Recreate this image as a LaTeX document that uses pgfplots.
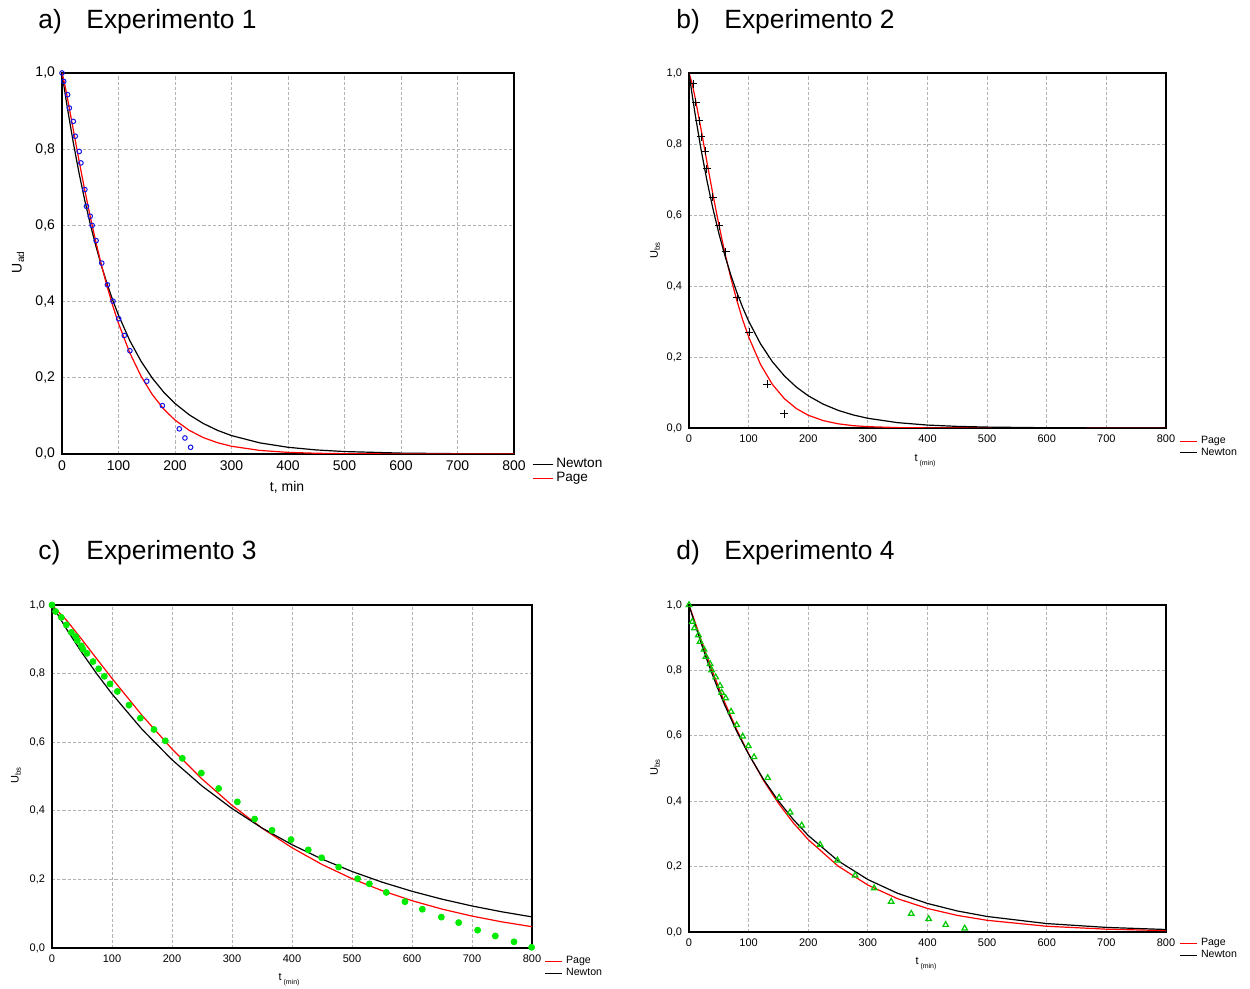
\documentclass[border=0pt]{standalone}
\usepackage{pgfplots}
\pgfplotsset{compat=1.18}
\usepackage{fontspec}
\setmainfont{Liberation Sans}
\definecolor{mygreen}{RGB}{0,235,0}
\definecolor{myred}{RGB}{255,0,0}
\definecolor{myblue}{RGB}{20,20,230}
\pgfplotsset{
  panel/.style={
    scale only axis, anchor=south west,
    xmin=0, xmax=800, ymin=0, ymax=1,
    xtick={0,100,200,300,400,500,600,700,800},
    xticklabels={0,100,200,300,400,500,600,700,800},
    ytick={0,0.2,0.4,0.6,0.8,1},
    yticklabels={{0,0},{0,2},{0,4},{0,6},{0,8},{1,0}},
    grid=major,
    grid style={dash pattern=on 1.6pt off 1pt, black!30, line width=0.4pt},
    major tick length=0pt,
    axis line style={line width=0.7pt},
    legend cell align=left,
    legend style={draw=none, fill=none, inner sep=0pt, outer sep=0pt, row sep=0pt,
      nodes={inner sep=0.4pt, anchor=west},
      /tikz/every odd column/.append style={column sep=1.2pt}},
  },
  small/.style={
    tick label style={font=\fontsize{5.5}{6}\selectfont},
    label style={font=\fontsize{5.5}{6}\selectfont},
    legend style={font=\fontsize{5.3}{6}\selectfont},
    legend image code/.code={\draw[##1, line width=0.5pt] (0pt,0pt) -- (8.5pt,0pt);},
  },
  big/.style={
    tick label style={font=\fontsize{7}{8}\selectfont},
    label style={font=\fontsize{7}{8}\selectfont},
    legend style={font=\fontsize{6.8}{7.5}\selectfont},
    legend image code/.code={\draw[##1, line width=0.5pt] (0pt,0pt) -- (10pt,0pt);},
  },
  curve/.style={line width=0.6pt, no marks},
}
\newcommand{\tmin}{t\,\raisebox{-0.6ex}{\fontsize{3.5}{4}\selectfont (min)}}
\begin{document}
\begin{tikzpicture}
\useasboundingbox (0pt,0pt) rectangle (625pt,494.5pt);
% titles
\node[anchor=base west, inner sep=0pt, font=\fontsize{13.2}{15}\selectfont] at (19pt,480pt) {a)};
\node[anchor=base west, inner sep=0pt, font=\fontsize{13.2}{15}\selectfont] at (43pt,480pt) {Experimento 1};
\node[anchor=base west, inner sep=0pt, font=\fontsize{13.2}{15}\selectfont] at (338pt,480pt) {b)};
\node[anchor=base west, inner sep=0pt, font=\fontsize{13.2}{15}\selectfont] at (362pt,480pt) {Experimento 2};
\node[anchor=base west, inner sep=0pt, font=\fontsize{13.2}{15}\selectfont] at (19pt,214.5pt) {c)};
\node[anchor=base west, inner sep=0pt, font=\fontsize{13.2}{15}\selectfont] at (43pt,214.5pt) {Experimento 3};
\node[anchor=base west, inner sep=0pt, font=\fontsize{13.2}{15}\selectfont] at (338pt,214.5pt) {d)};
\node[anchor=base west, inner sep=0pt, font=\fontsize{13.2}{15}\selectfont] at (362pt,214.5pt) {Experimento 4};

% ---------------- a ----------------
\begin{axis}[panel, big, at={(31pt,267.5pt)}, width=226pt, height=190.5pt,
  xlabel={t, min}, ylabel={U\textsubscript{ad}},
  xlabel style={at={(rel axis cs:0.498,-0.087)}, anchor=center},
  ylabel style={at={(rel axis cs:-0.097,0.504)}, anchor=center},
  legend style={at={(1.04,-0.01)}, anchor=north west}]
\addplot[curve, black] coordinates {(0,1) (5,0.9508) (10,0.9039) (20,0.8171) (30,0.7386) (40,0.6676) (50,0.6035) (60,0.5455) (70,0.4931) (80,0.4457) (90,0.4029) (100,0.3642) (120,0.2976) (140,0.2432) (160,0.1987) (180,0.1624) (200,0.1327) (225,0.1030) (250,0.0801) (275,0.0622) (300,0.0483) (350,0.0292) (400,0.0176) (450,0.0106) (500,0.0064) (600,0.0023) (700,0.00085) (800,0.0003)};
\addlegendentry{Newton}
\addplot[curve, myred] coordinates {(0,1) (5,0.9689) (10,0.9311) (20,0.8510) (30,0.7712) (40,0.6945) (50,0.6227) (60,0.5560) (70,0.4946) (80,0.4389) (90,0.3884) (100,0.3428) (120,0.2654) (140,0.2039) (160,0.1556) (180,0.1180) (200,0.0891) (225,0.0622) (250,0.0431) (275,0.0297) (300,0.0203) (350,0.0094) (400,0.0042) (450,0.0019) (500,0.0008) (600,0.0001) (800,0)};
\addlegendentry{Page}
\addplot[forget plot, only marks, mark=o, mark size=1.15pt, myblue, mark options={line width=0.5pt}] coordinates {(0,1.0) (3,0.978) (10,0.943) (13,0.908) (20,0.873) (23.5,0.834) (30.5,0.794) (33.5,0.764) (40.5,0.694) (43.4,0.650) (50,0.624) (53.4,0.600) (60.4,0.560) (70.4,0.501) (80.4,0.444) (90.3,0.401) (100.3,0.355) (110.3,0.311) (120.2,0.271) (150,0.191) (177.7,0.127) (207.6,0.066) (217.6,0.042) (227.6,0.0175)};
\end{axis}

% ---------------- b ----------------
\begin{axis}[panel, small, at={(344.5pt,280.5pt)}, width=238.5pt, height=177.5pt,
  xlabel={\tmin}, ylabel={U\textsubscript{bs}},
  xlabel style={at={(rel axis cs:0.495,-0.092)}, anchor=center},
  ylabel style={at={(rel axis cs:-0.071,0.501)}, anchor=center},
  legend style={at={(1.029,-0.02)}, anchor=north west}]
\addplot[curve, myred] coordinates {(0,1) (5,0.9719) (10,0.9326) (20,0.8432) (30,0.7499) (40,0.6589) (50,0.5733) (60,0.4947) (70,0.4238) (80,0.3606) (90,0.3050) (100,0.2566) (120,0.1789) (140,0.1225) (160,0.0825) (180,0.0548) (200,0.0359) (225,0.0208) (250,0.0118) (275,0.0066) (300,0.0037) (350,0.0011) (400,0.0003) (500,0) (800,0)};
\addlegendentry{Page}
\addplot[curve, black] coordinates {(0,1) (5,0.9418) (10,0.8869) (20,0.7866) (30,0.6977) (40,0.6188) (50,0.5488) (60,0.4868) (70,0.4317) (80,0.3829) (90,0.3396) (100,0.3012) (120,0.2369) (140,0.1864) (160,0.1466) (180,0.1153) (200,0.0907) (225,0.0672) (250,0.0498) (275,0.0369) (300,0.0273) (350,0.0150) (400,0.0082) (450,0.0045) (500,0.0025) (600,0.0007) (700,0.0002) (800,0.0001)};
\addlegendentry{Newton}
\addplot[forget plot, only marks, mark=+, mark size=2pt, black, mark options={line width=0.5pt}] coordinates {(7.5,0.969) (11.5,0.918) (17.5,0.865) (20.5,0.821) (27,0.779) (30,0.730) (39.5,0.650) (51,0.569) (61.5,0.497) (81,0.368) (101,0.269) (131,0.123) (159.5,0.040)};
\end{axis}

% ---------------- c ----------------
\begin{axis}[panel, small, at={(26pt,20.5pt)}, width=240pt, height=171.5pt,
  xlabel={\tmin}, ylabel={U\textsubscript{bs}},
  xlabel style={at={(rel axis cs:0.494,-0.093)}, anchor=center},
  ylabel style={at={(rel axis cs:-0.075,0.504)}, anchor=center},
  legend style={at={(1.027,-0.022)}, anchor=north west}]
\addplot[curve, myred] coordinates {(0,1) (25,0.9539) (50,0.8989) (75,0.8422) (100,0.7859) (150,0.6783) (200,0.5803) (250,0.4928) (300,0.4160) (350,0.3495) (400,0.2923) (450,0.2435) (500,0.2021) (550,0.1672) (600,0.1379) (650,0.1134) (700,0.0930) (750,0.0761) (800,0.0621)};
\addlegendentry{Page}
\addplot[curve, black] coordinates {(0,1) (25,0.9277) (50,0.8607) (75,0.7985) (100,0.7408) (150,0.6376) (200,0.5488) (250,0.4724) (300,0.4066) (350,0.3499) (400,0.3012) (450,0.2592) (500,0.2231) (550,0.1920) (600,0.1653) (650,0.1423) (700,0.1225) (750,0.1054) (800,0.0907)};
\addlegendentry{Newton}
\addplot[forget plot, only marks, mark=*, mark size=1.5pt, mygreen, mark options={draw=mygreen, fill=mygreen}] coordinates {(0,1.0) (6,0.981) (15.6,0.964) (23.9,0.942) (32.2,0.920) (39.4,0.908) (42.2,0.896) (48.9,0.881) (51.7,0.871) (58.3,0.859) (68.3,0.835) (77.8,0.814) (87.2,0.792) (96.7,0.770) (108.9,0.748) (128.3,0.708) (147.2,0.670) (170,0.637) (188.9,0.604) (217.2,0.553) (248.9,0.510) (277.8,0.465) (308.9,0.426) (337.8,0.376) (366.7,0.343) (398.3,0.316) (427.2,0.286) (449.4,0.263) (477.8,0.236) (509.4,0.202) (528.9,0.187) (557.2,0.162) (588.3,0.135) (617.2,0.113) (648.9,0.090) (677.8,0.074) (709.4,0.052) (738.9,0.035) (770,0.018) (799.4,0.002)};
\end{axis}

% ---------------- d ----------------
\begin{axis}[panel, small, at={(344.5pt,28.5pt)}, width=238.5pt, height=163.5pt,
  xlabel={\tmin}, ylabel={U\textsubscript{bs}},
  xlabel style={at={(rel axis cs:0.497,-0.097)}, anchor=center},
  ylabel style={at={(rel axis cs:-0.071,0.505)}, anchor=center},
  legend style={at={(1.029,-0.018)}, anchor=north west}]
\addplot[curve, myred] coordinates {(0,1) (10,0.9483) (20,0.8952) (30,0.8437) (40,0.7942) (50,0.7470) (60,0.7021) (80,0.6190) (100,0.5448) (125,0.4635) (150,0.3935) (175,0.3336) (200,0.2824) (250,0.2017) (300,0.1435) (350,0.1017) (400,0.0719) (450,0.0507) (500,0.0357) (600,0.0175) (700,0.0086) (800,0.0042)};
\addlegendentry{Page}
\addplot[curve, black] coordinates {(0,1) (10,0.9408) (20,0.8851) (30,0.8328) (40,0.7835) (50,0.7371) (60,0.6935) (80,0.6139) (100,0.5434) (125,0.4665) (150,0.4005) (175,0.3439) (200,0.2952) (250,0.2176) (300,0.1604) (350,0.1182) (400,0.0872) (450,0.0643) (500,0.0474) (600,0.0257) (700,0.0140) (800,0.0076)};
\addlegendentry{Newton}
\addplot[forget plot, only marks, mark=triangle, mark size=1.6pt, mygreen!85!black, mark options={line width=0.6pt}] coordinates {(0,1.0) (5.6,0.949) (9,0.929) (15.7,0.908) (18.5,0.888) (25.2,0.864) (28.5,0.842) (35.3,0.820) (38,0.801) (44.8,0.779) (52,0.753) (54.8,0.732) (61.6,0.715) (70.5,0.674) (80,0.633) (90.1,0.598) (99.6,0.569) (109.1,0.535) (132,0.471) (151.1,0.411) (169.6,0.366) (189.1,0.326) (219.9,0.267) (249,0.219) (278.7,0.173) (310.6,0.134) (339.1,0.093) (372.8,0.056) (402,0.040) (430.5,0.022) (462.4,0.011)};
\end{axis}
\end{tikzpicture}
\end{document}
